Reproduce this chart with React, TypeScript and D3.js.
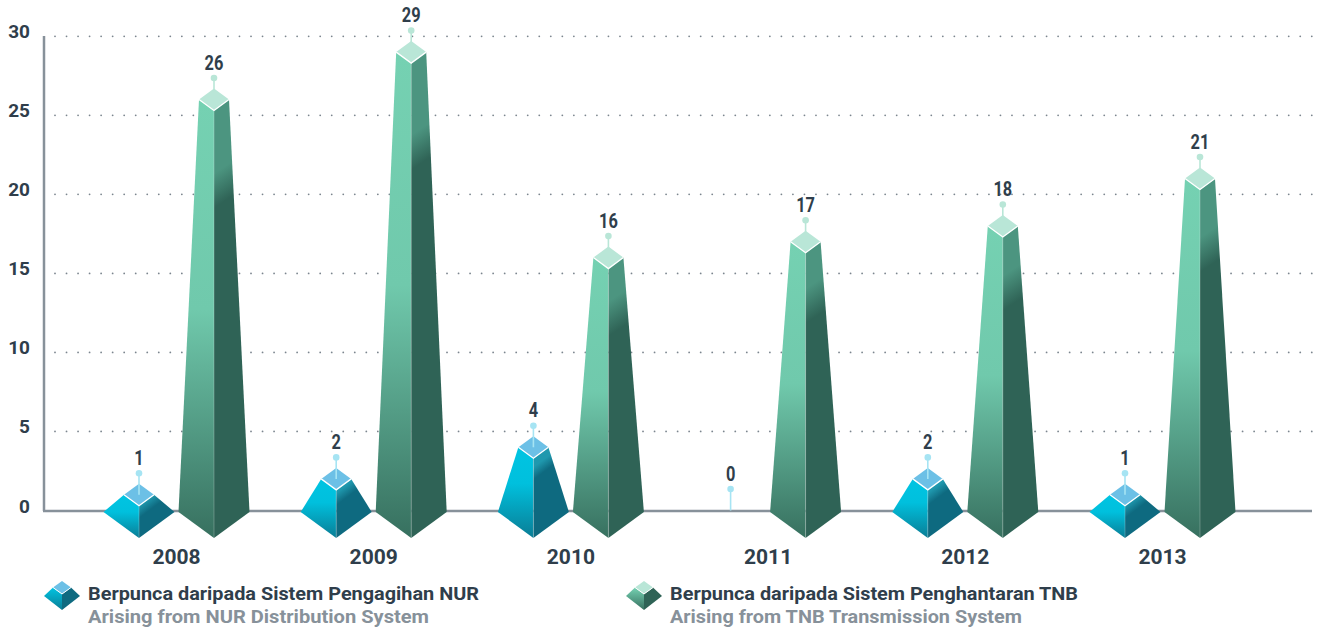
import React from "react";
import * as d3 from "d3";

const years = ["2008", "2009", "2010", "2011", "2012", "2013"];
const nurValues = [1, 2, 4, 0, 2, 1];
const tnbValues = [26, 29, 16, 17, 18, 21];
const yTicks = [0, 5, 10, 15, 20, 25, 30];
const legendMain = ["Berpunca daripada Sistem Pengagihan NUR", "Berpunca daripada Sistem Penghantaran TNB"];
const legendSub = ["Arising from NUR Distribution System", "Arising from TNB Transmission System"];

const W = 1319, H = 629;
const y = d3.scaleLinear().domain([0, 30]).range([510.5, 36.3]);
const x = d3.scalePoint<string>().domain(years).range([139, 1125]);
const FONT = "Roboto, 'Liberation Sans', sans-serif";
const DARK = "#2f3e4b";
const GREY = "#87919a";

const palettes = {
  nur: { top: "#6cc0e6", l: ["#00c4e2", "#00c0dd", "#0a7d95"], r: ["#1f98ae", "#0e6a80"], stem: "#a6e4f3" },
  tnb: { top: "#b9e6d7", l: ["#75d1b2", "#70c9ac", "#37705f"], r: ["#4c9580", "#2f6356"], stem: "#b9e6d7" },
};
type Kind = keyof typeof palettes;

const pts = (p: number[][]) => p.map((q) => q.join(",")).join(" ");

function Defs({ kind, id, top, bottom, cx }: { kind: Kind; id: string; top: number; bottom: number; cx: number }) {
  const p = palettes[kind];
  const h = bottom - top;
  const bandY = top + h * 0.19;
  const sx = kind === "tnb" ? 8 : 3;
  const sy = kind === "tnb" ? 12 : 4;
  return (
    <>
      <linearGradient id={id + "L"} gradientUnits="userSpaceOnUse" x1={cx} y1={top} x2={cx} y2={bottom}>
        <stop offset="0" stopColor={p.l[0]} />
        <stop offset={kind === "tnb" ? 0.48 : 0.4} stopColor={p.l[1]} />
        <stop offset="1" stopColor={p.l[2]} />
      </linearGradient>
      <linearGradient id={id + "R"} gradientUnits="userSpaceOnUse" x1={cx + 12 - sx} y1={bandY - sy} x2={cx + 12 + sx} y2={bandY + sy}>
        <stop offset="0" stopColor={p.r[0]} />
        <stop offset="1" stopColor={p.r[1]} />
      </linearGradient>
    </>
  );
}

function Prism({ cx, value, kind, id }: { cx: number; value: number; kind: Kind; id: string }) {
  const p = palettes[kind];
  const base = y(0) + 1.5;
  const tip = y(0) + 27.5;
  const baseHalf = 35.5;
  const topHalf = 15;
  const topDy = 11;
  const vy = y(value);
  const L = [cx - topHalf, vy], R = [cx + topHalf, vy];
  const T = [cx, vy - topDy], B = [cx, vy + topDy];
  return (
    <g>
      <Defs kind={kind} id={id} top={vy} bottom={tip} cx={cx} />
      <polygon points={pts([L, B, [cx, tip], [cx - baseHalf, base]])} fill={`url(#${id}L)`} />
      <polygon points={pts([R, B, [cx, tip], [cx + baseHalf, base]])} fill={`url(#${id}R)`} />
      <line x1={cx} x2={cx} y1={B[1]} y2={tip} stroke="#fff" strokeOpacity={0.3} strokeWidth={0.8} />
      <polygon points={pts([L, T, R, B])} fill={p.top} />
      <polyline points={pts([L, B, R])} fill="none" stroke="#fff" strokeWidth={1.3} />
    </g>
  );
}

function Stem({ cx, value, kind }: { cx: number; value: number; kind: Kind }) {
  const c = palettes[kind].stem;
  const vy = y(value);
  const cy = vy - 21.5;
  return (
    <g>
      <line x1={cx} x2={cx} y1={cy} y2={vy} stroke={c} strokeWidth={1.6} />
      <circle cx={cx} cy={cy} r={3.3} fill={c} />
      <text x={cx} y={cy - 8.5} textAnchor="middle" fontFamily={FONT} fontWeight={700} fontSize={21} fill={DARK} textLength={String(value).length * 9.4} lengthAdjust="spacingAndGlyphs">
        {value}
      </text>
    </g>
  );
}

function LegendIcon({ x0, kind }: { x0: number; kind: Kind }) {
  const p = palettes[kind];
  const id = "lg" + kind;
  const cx = x0, t = 581, m = 587.5, b = 594, base = 596, tip = 610, half = 18;
  return (
    <g>
      <linearGradient id={id} gradientUnits="userSpaceOnUse" x1={cx} y1={m} x2={cx} y2={tip}>
        <stop offset="0" stopColor={p.l[0]} />
        <stop offset="1" stopColor={p.l[2]} />
      </linearGradient>
      <polygon points={pts([[cx - 9, m], [cx, b], [cx, tip], [cx - half, base]])} fill={`url(#${id})`} />
      <polygon points={pts([[cx + 9, m], [cx, b], [cx, tip], [cx + half, base]])} fill={p.r[1]} />
      <polygon points={pts([[cx - 9, m], [cx, t], [cx + 9, m], [cx, b]])} fill={p.top} />
      <polyline points={pts([[cx - 9, m], [cx, b], [cx + 9, m]])} fill="none" stroke="#fff" strokeWidth={1} />
    </g>
  );
}

export default function App() {
  const dotXs = d3.range(0, 110).map((i) => 55 + i * 11.53);
  return (
    <svg width={W} height={H} style={{ position: "absolute", left: 0, top: 0, background: "#fff" }}>
      {yTicks.filter((t) => t > 0).map((t) => (
        <g key={t}>
          {dotXs.map((dx) => (
            <circle key={dx} cx={dx} cy={y(t)} r={0.9} fill="#7b858e" />
          ))}
        </g>
      ))}
      <line x1={44} x2={44} y1={36} y2={511} stroke={GREY} strokeWidth={2.5} />
      <line x1={43} x2={1312} y1={y(0) + 0.5} y2={y(0) + 0.5} stroke={GREY} strokeWidth={2.5} />
      {yTicks.map((t) => (
        <text key={t} x={30} y={y(t) + 2} textAnchor="end" fontFamily={FONT} fontWeight={700} fontSize={19} fill={DARK}>
          {t}
        </text>
      ))}
      {years.map((yr, i) => {
        const cx = x(yr)!;
        const tx = cx + 75;
        return (
          <g key={yr}>
            {nurValues[i] > 0 && <Prism cx={cx} value={nurValues[i]} kind="nur" id={`n${i}`} />}
            <Stem cx={cx} value={nurValues[i]} kind="nur" />
            <Prism cx={tx} value={tnbValues[i]} kind="tnb" id={`t${i}`} />
            <Stem cx={tx} value={tnbValues[i]} kind="tnb" />
            <text x={cx + 37.5} y={564} textAnchor="middle" fontFamily={FONT} fontWeight={700} fontSize={21} fill={DARK}>
              {yr}
            </text>
          </g>
        );
      })}
      {[0, 1].map((i) => {
        const tx = i === 0 ? 88 : 670;
        return (
          <g key={i}>
            <LegendIcon x0={i === 0 ? 62 : 644} kind={i === 0 ? "nur" : "tnb"} />
            <text x={tx} y={600} fontFamily={FONT} fontWeight={700} fontSize={18} fill={DARK} textLength={i === 0 ? 391 : 408} lengthAdjust="spacingAndGlyphs">
              {legendMain[i]}
            </text>
            <text x={tx} y={623} fontFamily={FONT} fontWeight={700} fontSize={18} fill={GREY} textLength={i === 0 ? 341 : 352} lengthAdjust="spacingAndGlyphs">
              {legendSub[i]}
            </text>
          </g>
        );
      })}
    </svg>
  );
}
